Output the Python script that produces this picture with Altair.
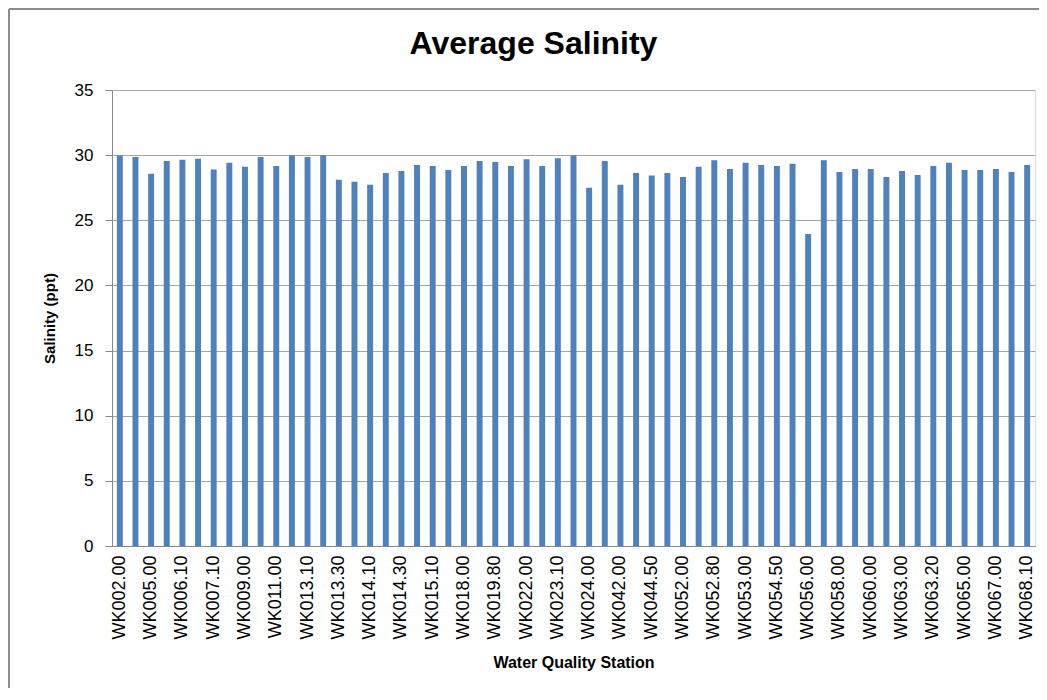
import altair as alt
import pandas as pd

# Stations (every bar); Excel shows only every other label
stations = [
    "WK002.00", "WK004.00", "WK005.00", "WK006.00", "WK006.10", "WK007.00",
    "WK007.10", "WK008.00", "WK009.00", "WK010.00", "WK011.00", "WK013.00",
    "WK013.10", "WK013.20", "WK013.30", "WK014.00", "WK014.10", "WK014.20",
    "WK014.30", "WK015.00", "WK015.10", "WK016.00", "WK018.00", "WK019.00",
    "WK019.80", "WK021.00", "WK022.00", "WK023.00", "WK023.10", "WK023.20",
    "WK024.00", "WK025.00", "WK042.00", "WK043.00", "WK044.50", "WK045.00",
    "WK052.00", "WK052.50", "WK052.80", "WK052.90", "WK053.00", "WK054.00",
    "WK054.50", "WK055.00", "WK056.00", "WK057.00", "WK058.00", "WK059.00",
    "WK060.00", "WK062.00", "WK063.00", "WK063.10", "WK063.20", "WK064.00",
    "WK065.00", "WK066.00", "WK067.00", "WK068.00", "WK068.10",
]

salinity = [
    30.0, 29.85, 28.58, 29.56, 29.64, 29.72, 28.89, 29.41, 29.10, 29.85,
    29.17, 30.0, 29.85, 30.0, 28.12, 27.96, 27.73, 28.63, 28.79, 29.25,
    29.17, 28.86, 29.17, 29.56, 29.48, 29.17, 29.69, 29.17, 29.77, 30.0,
    27.50, 29.56, 27.73, 28.63, 28.43, 28.63, 28.32, 29.10, 29.61, 28.94,
    29.41, 29.25, 29.17, 29.33, 23.94, 29.61, 28.71, 28.94, 28.94, 28.32,
    28.79, 28.48, 29.17, 29.41, 28.86, 28.86, 28.94, 28.71, 29.25,
]

shown_labels = stations[::2]
y_ticks = [0, 5, 10, 15, 20, 25, 30, 35]

df = pd.DataFrame({"station": stations, "salinity": salinity})

FONT = "Liberation Sans"

bars = alt.Chart(df).mark_bar(color="#4F81BD").encode(
    x=alt.X(
        "station:N",
        sort=stations,
        scale=alt.Scale(paddingInner=0.62, paddingOuter=0.31),
        axis=alt.Axis(
            title="Water Quality Station",
            values=shown_labels,
            labelAngle=-90,
            labelFontSize=18,
            labelFont=FONT,
            labelColor="#000000",
            labelPadding=9,
            ticks=False,
            domainColor="#888888",
            domainWidth=1,
            grid=False,
            titleFont=FONT,
            titleFontSize=16,
            titleFontWeight="bold",
            titleColor="#000000",
            titlePadding=15,
        ),
    ),
    y=alt.Y(
        "salinity:Q",
        scale=alt.Scale(domain=[0, 35], nice=False),
        axis=alt.Axis(
            title="Salinity (ppt)",
            values=y_ticks,
            labelFontSize=17,
            labelFont=FONT,
            labelColor="#000000",
            labelPadding=12,
            tickSize=7,
            tickColor="#888888",
            domainColor="#888888",
            gridColor="#A6A6A6",
            gridWidth=1,
            titleFont=FONT,
            titleFontSize=15,
            titleFontWeight="bold",
            titleColor="#000000",
            titlePadding=17,
        ),
    ),
)

frame_df = pd.DataFrame({"k": [0]})
frame_left = alt.Chart(frame_df).mark_rule(color="#8C8C8C", strokeWidth=2).encode(
    x=alt.value(-103), y=alt.value(-81), y2=alt.value(700)
)
frame_top = alt.Chart(frame_df).mark_rule(color="#8C8C8C", strokeWidth=2).encode(
    x=alt.value(-103), x2=alt.value(1000), y=alt.value(-81)
)

chart = (
    alt.layer(frame_left, frame_top, bars)
    .properties(
        width=923,
        height=456,
        autosize=alt.AutoSizeParams(type="none"),
        padding={"left": 104, "top": 82, "right": 4, "bottom": 142},
        title=alt.TitleParams(
            "Average Salinity",
            font=FONT,
            fontSize=32,
            fontWeight="bold",
            color="#000000",
            anchor="middle",
            dx=-40,
            offset=-53,
        ),
    )
    .configure_view(stroke=None)
    .configure(background="#FFFFFF")
)

chart.save("out.html", embed_options={"renderer": "svg", "actions": False})
